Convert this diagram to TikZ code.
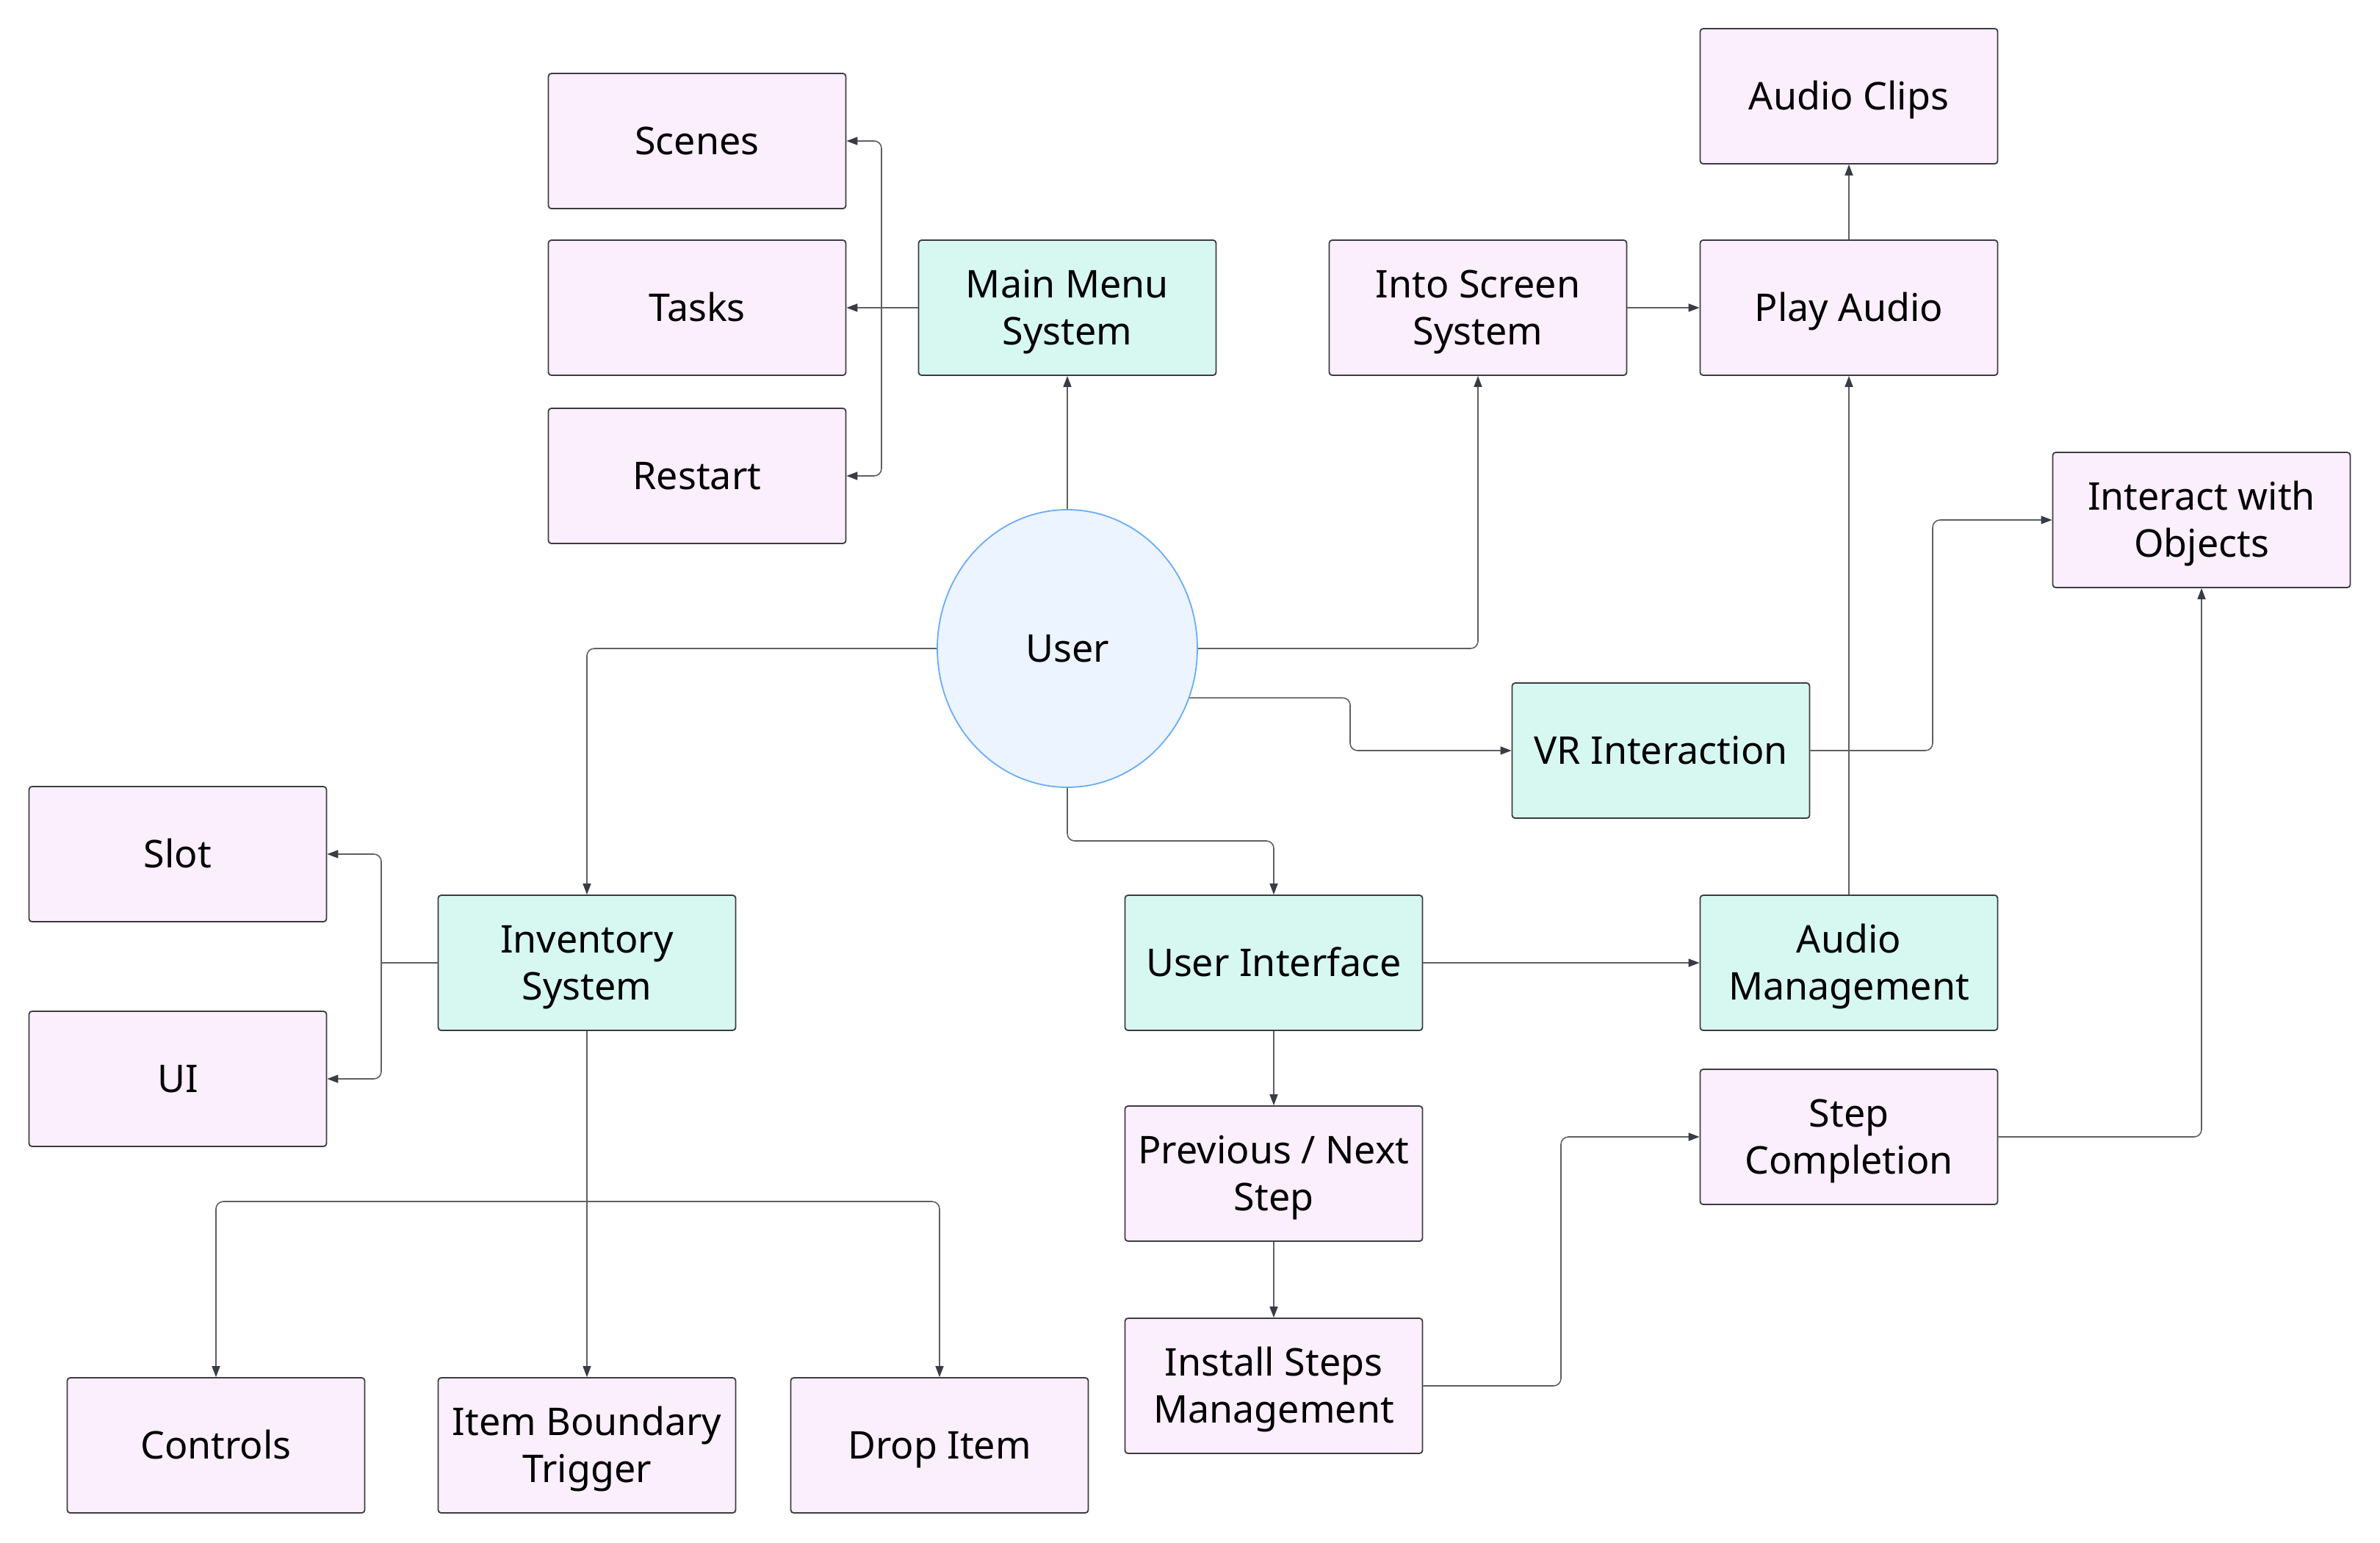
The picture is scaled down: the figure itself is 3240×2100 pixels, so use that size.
\documentclass[tikz,border=0pt]{standalone}
\usepackage{fontspec}
\setmainfont{Noto Sans}
\usetikzlibrary{arrows.meta,shapes.geometric}
\definecolor{pinkfill}{RGB}{251,238,253}
\definecolor{tealfill}{RGB}{214,248,241}
\definecolor{userfill}{RGB}{235,244,255}
\definecolor{userline}{RGB}{106,172,247}
\definecolor{boxline}{RGB}{60,60,66}
\definecolor{edgeline}{RGB}{95,95,100}
\definecolor{tipcol}{RGB}{55,60,70}
\newcommand\onel[1]{\rule{0pt}{18.6pt}\smash{#1}}
\newcommand\twoln[2]{\rule{0pt}{18.6pt}\smash{#1}\\\smash{#2}}
\begin{document}
\begin{tikzpicture}[x=0.5pt,y=-0.5pt,
  basebox/.style={rectangle,rounded corners=2pt,draw=boxline,line width=0.9pt,
    minimum width=202.5pt,minimum height=92pt,inner sep=0pt,align=center,
    font=\fontsize{26}{32}\selectfont},
  pinkbox/.style={basebox,fill=pinkfill},
  tealbox/.style={basebox,fill=tealfill},
  userbox/.style={ellipse,draw=userline,fill=userfill,line width=0.9pt,
    minimum width=177pt,minimum height=189pt,inner sep=0pt,
    font=\fontsize{26}{32}\selectfont},
  edge/.style={draw=edgeline,line width=0.8pt,rounded corners=5pt,
    -{Triangle[length=7.5pt,width=5.5pt,fill=tipcol,color=tipcol]}},
  plain/.style={draw=edgeline,line width=0.8pt,rounded corners=5pt}]
\useasboundingbox (0,0) rectangle (3240,2100);

% nodes
\node[pinkbox] (scenes) at (949,192) {\onel{Scenes}};
\node[pinkbox] (tasks) at (949,419) {\onel{Tasks}};
\node[pinkbox] (restart) at (949,648) {\onel{Restart}};
\node[tealbox] (mm) at (1453,419) {\twoln{Main Menu}{System}};
\node[pinkbox] (into) at (2012,419) {\twoln{Into Screen}{System}};
\node[pinkbox] (play) at (2517,419) {\onel{Play Audio}};
\node[pinkbox] (clips) at (2517,131) {\onel{Audio Clips}};
\node[pinkbox] (inter) at (2997,708) {\twoln{Interact with}{Objects}};
\node[userbox] (user) at (1453,883) {\onel{User}};
\node[tealbox] (vr) at (2261,1022) {\onel{VR Interaction}};
\node[pinkbox] (slot) at (242,1163) {\onel{Slot}};
\node[pinkbox] (uibox) at (242,1469) {\onel{UI}};
\node[tealbox] (inv) at (799,1311) {\twoln{Inventory}{System}};
\node[tealbox] (uif) at (1734,1311) {\onel{User Interface}};
\node[tealbox] (am) at (2517,1311) {\twoln{Audio}{Management}};
\node[pinkbox] (stepc) at (2517,1548) {\twoln{Step}{Completion}};
\node[pinkbox] (prev) at (1734,1598) {\twoln{Previous / Next}{Step}};
\node[pinkbox] (inst) at (1734,1887) {\twoln{Install Steps}{Management}};
\node[pinkbox] (controls) at (294,1968) {\onel{Controls}};
\node[pinkbox] (item) at (799,1968) {\twoln{Item Boundary}{Trigger}};
\node[pinkbox] (drop) at (1279,1968) {\onel{Drop Item}};

% bend points
\coordinate (mmk) at (1200,419);
\coordinate (vrk) at (1838,1022);
\coordinate (vik) at (2631,1022);
\coordinate (uuk) at (1453,1145);
\coordinate (isk) at (2125,1887);
\coordinate (ivk) at (519,1311);
\coordinate (ibk) at (799,1636);

% edges
\draw[plain] (mm.west) -- (mmk);
\draw[edge] (mmk) |- (scenes.east);
\draw[edge] (mmk) -- (tasks.east);
\draw[edge] (mmk) |- (restart.east);
\draw[edge] (user.north) -- (mm.south);
\draw[edge] (user.east) -| (into.south);
\draw[edge] (into.east) -- (play.west);
\draw[edge] (play.north) -- (clips.south);
\draw[edge] (user.west) -| (inv.north);
\draw[edge] (user.-22.7) -| (vrk) -- (vr.west);
\draw[edge] (vr.east) -- (vik) |- (inter.west);
\draw[edge] (user.south) -- (uuk) -| (uif.north);
\draw[edge] (uif.east) -- (am.west);
\draw[edge] (am.north) -- (play.south);
\draw[edge] (uif.south) -- (prev.north);
\draw[edge] (prev.south) -- (inst.north);
\draw[edge] (inst.east) -- (isk) |- (stepc.west);
\draw[edge] (stepc.east) -| (inter.south);
\draw[plain] (inv.west) -- (ivk);
\draw[edge] (ivk) |- (slot.east);
\draw[edge] (ivk) |- (uibox.east);
\draw[plain] (inv.south) -- (ibk);
\draw[edge] (ibk) -| (controls.north);
\draw[edge] (ibk) -- (item.north);
\draw[edge] (ibk) -| (drop.north);
\end{tikzpicture}
\end{document}
